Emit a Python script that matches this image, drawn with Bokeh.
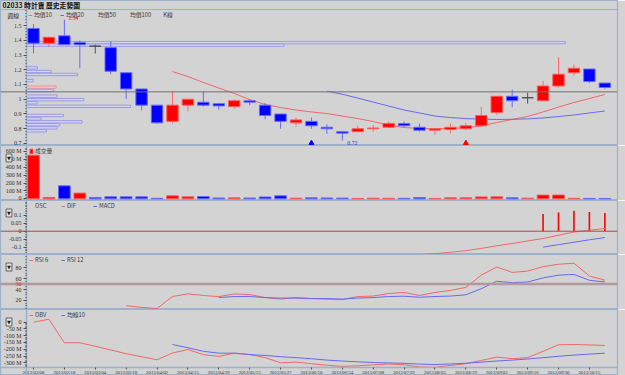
import numpy as np
from bokeh.plotting import figure
from bokeh.layouts import column
from bokeh.models import (Range1d, FixedTicker, Span, Label, Legend, LegendItem,
                          ColumnDataSource, LinearAxis)
from bokeh.embed import file_html
from bokeh.resources import INLINE

# ---------------- data ----------------
TITLE = "02033 時計寶  歷史走勢圖"
PERIOD = "週線"
DATE_LABELS = ["2013/02/08", "2013/02/18", "2013/03/04", "2013/03/18", "2013/04/02",
               "2013/04/15", "2013/04/29", "2013/05/13", "2013/05/27", "2013/06/10",
               "2013/06/24", "2013/07/08", "2013/07/22", "2013/08/05", "2013/08/19",
               "2013/09/02", "2013/09/16", "2013/09/30", "2013/10/15"]

OPEN = [1.48, 1.38, 1.43, 1.385, 1.36, 1.35, 1.18, 1.07, 0.96, 0.85,
        0.96, 0.98, 0.97, 0.95, 0.99, 0.96, 0.90, 0.84, 0.85, 0.81,
        0.78, 0.78, 0.80, 0.81, 0.835, 0.81, 0.79, 0.795, 0.80, 0.82,
        0.91, 1.02, 1.01, 0.99, 1.09, 1.18, 1.205, 1.11]
HIGH = [1.51, 1.425, 1.54, 1.40, 1.37, 1.395, 1.18, 1.07, 0.96, 1.055,
        1.00, 1.053, 0.975, 1.00, 1.00, 0.975, 0.90, 0.875, 0.875, 0.83,
        0.78, 0.82, 0.825, 0.85, 0.85, 0.835, 0.805, 0.835, 0.84, 0.95,
        1.02, 1.065, 1.045, 1.125, 1.285, 1.235, 1.205, 1.11]
LOW = [1.31, 1.355, 1.37, 1.21, 1.31, 1.17, 1.00, 0.925, 0.835, 0.835,
       0.92, 0.95, 0.93, 0.935, 0.96, 0.865, 0.80, 0.815, 0.80, 0.765,
       0.72, 0.78, 0.78, 0.81, 0.81, 0.78, 0.76, 0.77, 0.79, 0.815,
       0.895, 0.945, 0.97, 0.99, 1.08, 1.16, 1.11, 1.07]
CLOSE = [1.38, 1.42, 1.37, 1.37, 1.36, 1.19, 1.07, 0.96, 0.84, 0.96,
         1.00, 0.96, 0.955, 0.99, 0.98, 0.89, 0.85, 0.86, 0.82, 0.80,
         0.77, 0.80, 0.805, 0.835, 0.82, 0.79, 0.80, 0.81, 0.82, 0.89,
         1.02, 0.99, 1.01, 1.09, 1.17, 1.21, 1.12, 1.08]
VOLUME_M = [553, 17, 165, 72, 17, 25, 25, 25, 6, 38,
            25, 29, 10, 12, 10, 23, 38, 8, 12, 11,
            9, 5, 7, 6, 6, 15, 5, 13, 13, 24,
            25, 12, 8, 47, 48, 6, 5, 4]

MA10_START = 9
MA10 = [1.188, 1.154, 1.114, 1.076, 1.039, 0.998, 0.964, 0.944, 0.927, 0.914,
        0.903, 0.886, 0.869, 0.849, 0.825, 0.808, 0.802, 0.800, 0.802, 0.808,
        0.819, 0.842, 0.863, 0.883, 0.914, 0.947, 0.978, 1.005, 1.032]
MA20_START = 19
MA20 = [1.055, 1.034, 1.008, 0.981, 0.954, 0.927, 0.907, 0.886, 0.876, 0.869,
        0.865, 0.863, 0.864, 0.867, 0.873, 0.883, 0.893, 0.907, 0.920]

REF_PRICE = 1.05
PRICE_TICKS = [0.7, 0.8, 0.9, 1.0, 1.1, 1.2, 1.3, 1.4, 1.5]
PRICE_TICK_LABELS = ["0.7", "0.8", "0.9", "1", "1.1", "1.2", "1.3", "1.4", "1.5"]
SIGNAL_IDX = [18, 28]
SIGNAL_KIND = ["low", "buy"]

# volume-by-price profile
VP_PRICE = [1.384, 1.367, 1.213, 1.188, 1.168, 1.127, 1.082, 1.060, 1.021,
            0.997, 0.976, 0.952, 0.890, 0.867, 0.847, 0.827, 0.806, 0.786]
VP_VOL = [320, 153, 6.5, 14.7, 30.3, 4, 17.6, 16, 18.2,
          34, 6.4, 61.8, 22, 8.7, 33, 19.8, 18.2, 11.9]
VP_MAX = 351

VOL_TICKS = [0, 100, 200, 300, 400, 500, 600]
VOL_TICK_LABELS = ["0", "100 M", "200 M", "300 M", "400 M", "500 M", "600 M"]

DIF_START = 25
DIF = [-0.144, -0.139, -0.13, -0.12, -0.106, -0.09, -0.076, -0.06, -0.045,
       -0.025, -0.005, 0.006, 0.017]
MACD_START = 33
MACD = [-0.098, -0.083, -0.068, -0.053, -0.039]
OSC = [0.106, 0.116, 0.126, 0.118, 0.112]
MACD_TICKS = [-0.1, -0.05, 0, 0.05, 0.1]
MACD_TICK_LABELS = ["-0.1", "-0.05", "0", "0.05", "0.1"]

RSI6_START = 6
RSI6 = [10.3, 7.1, 5.2, 27.1, 32.1, 29.0, 27.0, 31.8, 30.8, 25.2,
        22.4, 25.2, 23.4, 22.4, 21.5, 27.1, 28.0, 32.7, 34.6, 29.0,
        34.6, 38.3, 43.9, 66.4, 81.3, 71.4, 73.8, 81.9, 86.4, 88.2,
        65.0, 57.0]
RSI12_START = 12
RSI12 = [25.2, 27.1, 27.1, 25.2, 24.3, 24.3, 23.4, 23.4, 22.4, 24.3,
         25.2, 27.1, 27.7, 25.8, 27.1, 28.0, 30.3, 41.5, 55.1, 52.7,
         53.8, 61.3, 66.4, 67.7, 57.0, 53.8]
RSI_TICKS = [20, 40, 60, 80]
RSI_MID = 50

OBV = [0, 22, -152, -152, -178, -205, -233, -255, -278, -228,
       -202, -240, -253, -229, -239, -262, -300, -295, -307, -318,
       -327, -322, -315, -309, -315, -330, -333, -320, -307, -283,
       -258, -270, -262, -215, -167, -165, -168, -172]
OBV_MA_START = 9
OBV_MA10 = [-165, -189, -215, -229, -229, -239, -246, -255, -262, -270,
            -280, -287, -293, -298, -301, -304, -310, -313, -309, -303,
            -295, -287, -280, -272, -262, -252, -243, -236, -229]
OBV_TICKS = [0, -50, -100, -150, -200, -250, -300]
OBV_TICK_LABELS = ["0", "-50 M", "-100 M", "-150 M", "-200 M", "-250 M", "-300 M"]

# ---------------- layout & styles ----------------
W = 625
LEFT = 26          # strip left of the y axes, holding tick labels (px)
RIGHT = 8          # right border (px)
BG = "#d3d3d3"
SEP = "#9db1ca"
TXT = "#303030"
RED, BLUE, GRAY = "#ff0000", "#0000ff", "#505050"
LRED, LBLUE = "#f06868", "#6868f0"
NUMFONT = "Liberation Serif"
CJK = "Noto Sans CJK TC"

X_LO, X_HI = -0.453, 37.82            # data span between y axis and right edge
FRAME_W = W - RIGHT
PX_PER_X = (FRAME_W - LEFT) / (X_HI - X_LO)
XR = Range1d(X_LO - LEFT / PX_PER_X, X_HI)


def base(height, yr):
    p = figure(width=W, height=height, x_range=XR, y_range=Range1d(*yr),
               output_backend="svg", toolbar_location=None,
               x_axis_location=None, y_axis_location=None,
               min_border_left=0, min_border_right=RIGHT,
               min_border_top=0, min_border_bottom=0,
               background_fill_color=BG, border_fill_color=BG,
               outline_line_color=SEP, outline_line_width=1.2)
    p.grid.visible = False
    return p


def style_axis(ax, ticks, labels, minor, size="6px"):
    ax.ticker = FixedTicker(ticks=ticks, minor_ticks=minor)
    ax.major_label_overrides = {t: s for t, s in zip(ticks, labels)}
    ax.axis_line_color = SEP
    ax.axis_line_width = 1.5
    ax.major_tick_line_color = GRAY
    ax.major_tick_out = 3
    ax.major_tick_in = 0
    ax.minor_tick_line_color = GRAY
    ax.minor_tick_out = 1
    ax.minor_tick_in = 0
    ax.major_label_text_font = NUMFONT
    ax.major_label_text_font_size = size
    ax.major_label_text_color = TXT
    ax.major_label_standoff = 2


def style_y(p, ticks, labels, minor):
    ax = LinearAxis(fixed_location=X_LO)
    style_axis(ax, ticks, labels, minor)
    p.add_layout(ax, "left")


def text(p, x, y, s, size="5.8px", color=TXT, font=CJK, align="left", style="normal",
         x_offset=0, y_offset=0, baseline="middle", **kw):
    p.add_layout(Label(x=x, y=y, x_units="data", y_units="data", text=s,
                       text_font_size=size, text_color=color, text_font=font,
                       text_align=align, text_baseline=baseline,
                       text_font_style=style, x_offset=x_offset, y_offset=y_offset, **kw))


def corner_text(p, s, dx, dy, **kw):
    # text placed relative to the top-left corner of the panel (pixels)
    text(p, XR.start, p.y_range.end, s, x_offset=dx, y_offset=dy, **kw)


def button(p):
    corner_text(p, "▼", 8.5, -12.5, size="5px", color="#202020", font="DejaVu Sans",
                align="center", background_fill_color="#e4e4e4",
                border_line_color="#606060", padding=1)


LEG_H = 12   # approximate legend box height (px)


def legend(p, items, x, center_down):
    leg = Legend(items=items, orientation="horizontal",
                 location=(x, p.height - center_down - LEG_H / 2),
                 background_fill_alpha=0, border_line_alpha=0,
                 label_text_font=CJK, label_text_font_size="5.8px",
                 label_text_color="#404040", label_text_baseline="middle",
                 glyph_width=4, glyph_height=6, label_height=6, label_standoff=2,
                 spacing=6, padding=2, margin=0)
    p.add_layout(leg)


idx = np.arange(len(OPEN))
o, h, l, c = map(np.array, (OPEN, HIGH, LOW, CLOSE))
up, dn = c > o, c < o

# ---------------- main price panel ----------------
H1, HEAD1 = 145, 9               # panel height, title strip height (px)
P_LO, P_HI = 0.6864, 1.6085      # price span of the chart area below the title strip
p1 = base(H1, (P_LO, P_HI + (P_HI - P_LO) * HEAD1 / (H1 - HEAD1)))
style_y(p1, PRICE_TICKS, PRICE_TICK_LABELS,
        [round(0.7 + 0.02 * k, 2) for k in range(0, 46)])
p1.add_layout(Span(location=P_HI, dimension="width", line_color=SEP, line_width=1.2))

vp_per_px = VP_MAX / (FRAME_W - LEFT)
p1.extra_x_ranges = {"vp": Range1d(-LEFT * vp_per_px, VP_MAX)}
last_bin = int(np.argmin(np.abs(np.array(VP_PRICE) - CLOSE[-1])))
vp_fill = ["#f2c6c6" if k == last_bin else "#d6d6f2" for k in range(len(VP_PRICE))]
vp_line = ["#f09696" if k == last_bin else "#9a9ae8" for k in range(len(VP_PRICE))]
p1.hbar(y=VP_PRICE, left=0, right=VP_VOL, height=0.016, x_range_name="vp",
        fill_color=vp_fill, line_color=vp_line, line_width=1)

p1.add_layout(Span(location=REF_PRICE, dimension="width", line_color="#707070",
                   line_width=1))

ma10_r = p1.line(list(range(MA10_START, MA10_START + len(MA10))), MA10,
                 line_color=LRED, line_width=1)
ma20_r = p1.line(list(range(MA20_START, MA20_START + len(MA20))), MA20,
                 line_color=LBLUE, line_width=1)
ma50_r = p1.line([], [], line_color="#c8c060", line_width=1)
ma100_r = p1.line([], [], line_color="#60c0a0", line_width=1)
k_r = p1.scatter([], [], marker="circle", size=4, fill_color=BG, line_color="#404040")

csrc = ColumnDataSource(dict(
    x=idx, hi=h, lo=l,
    top=np.maximum(o, c), bot=np.minimum(o, c),
    fill=np.where(up, RED, np.where(dn, BLUE, GRAY)),
    edge=np.where(up, "#ff5a5a", np.where(dn, "#6a6aff", GRAY)),
    wick=np.where(up, "#ff6a6a", np.where(dn, "#6a6aff", GRAY)),
))
p1.segment(x0="x", y0="lo", x1="x", y1="hi", line_color="wick", line_width=1, source=csrc)
p1.vbar(x="x", top="top", bottom="bot", width=0.74, fill_color="fill",
        line_color="edge", line_width=1, source=csrc)

sig_col = [BLUE if k == "low" else RED for k in SIGNAL_KIND]
p1.scatter(SIGNAL_IDX, [0.703] * len(SIGNAL_IDX), marker="triangle", size=5,
           fill_color=sig_col, line_color=sig_col)

i_hi = int(np.argmax(h))
i_lo = int(np.argmin(l))
text(p1, int(idx[i_hi]), float(h[i_hi]), f"{h[i_hi]:.2f}", size="5.8px", color=RED,
     font=NUMFONT, x_offset=4, y_offset=2)
text(p1, int(idx[i_lo]), float(l[i_lo]), f"{l[i_lo]:.2f}", size="5.8px", color="#3030c0",
     font=NUMFONT, x_offset=5, y_offset=-2)

corner_text(p1, TITLE, 2, -4, size="6.8px", color="#101010", style="bold")
corner_text(p1, PERIOD, 7, -14.5, size="5.8px")
legend(p1, [LegendItem(label="均價10", renderers=[ma10_r]),
            LegendItem(label="均價20", renderers=[ma20_r]),
            LegendItem(label="均價50", renderers=[ma50_r]),
            LegendItem(label="均價100", renderers=[ma100_r]),
            LegendItem(label="K線", renderers=[k_r])], 26, 15)

# ---------------- volume panel ----------------
H2 = 55
p2 = base(H2, (-21.6, 676))
style_y(p2, VOL_TICKS, VOL_TICK_LABELS, [20 * k for k in range(0, 33)])
vol_up = [k == 0 or CLOSE[k] >= CLOSE[k - 1] for k in range(len(CLOSE))]
vsrc = ColumnDataSource(dict(
    x=idx, v=VOLUME_M,
    fill=[RED if u else BLUE for u in vol_up],
    edge=["#ff5a5a" if u else "#6a6aff" for u in vol_up]))
vol_r = p2.vbar(x="x", top="v", bottom=0, width=0.76, fill_color="fill",
                line_color="edge", source=vsrc)
legend(p2, [LegendItem(label="成交量", renderers=[vol_r], index=0)], 27, 6)
button(p2)

# ---------------- MACD panel ----------------
H3 = 54
p3 = base(H3, (-0.1437, 0.1896))
style_y(p3, MACD_TICKS, MACD_TICK_LABELS, [round(-0.13 + 0.01 * k, 2) for k in range(0, 32)])
p3.add_layout(Span(location=0, dimension="width", line_color="#b04848", line_width=1))
mx = list(range(MACD_START, MACD_START + len(OSC)))
osc_r = p3.segment(x0=mx, y0=[0] * len(OSC), x1=mx, y1=OSC, line_color=RED, line_width=1.6)
osc_dummy = p3.line([], [], line_alpha=0)
dif_r = p3.line(list(range(DIF_START, DIF_START + len(DIF))), DIF, line_color=LRED, line_width=1)
macd_r = p3.line(mx, MACD, line_color=LBLUE, line_width=1)
legend(p3, [LegendItem(label="OSC", renderers=[osc_dummy]),
            LegendItem(label="DIF", renderers=[dif_r]),
            LegendItem(label="MACD", renderers=[macd_r])], 27, 6)
button(p3)

# ---------------- RSI panel ----------------
H4 = 55
p4 = base(H4, (3.3, 104.3))
style_y(p4, RSI_TICKS, [str(t) for t in RSI_TICKS], [5 * k for k in range(1, 21)])
p4.add_layout(Span(location=RSI_MID, dimension="width", line_color="#b4999a", line_width=2.6))
r6 = p4.line(list(range(RSI6_START, RSI6_START + len(RSI6))), RSI6, line_color=LRED, line_width=1)
r12 = p4.line(list(range(RSI12_START, RSI12_START + len(RSI12))), RSI12, line_color=LBLUE, line_width=1)
text(p4, X_LO, RSI_MID, str(RSI_MID), size="6px", color="#c03030", font=NUMFONT,
     align="right", x_offset=-5)
legend(p4, [LegendItem(label="RSI 6", renderers=[r6]),
            LegendItem(label="RSI 12", renderers=[r12])], 27, 6)
button(p4)

# ---------------- OBV panel (with the date axis) ----------------
H5 = 66
OBV_AXIS = -332.6                 # OBV value level where the date axis sits
p5 = base(H5, (-394, 93.9))
style_y(p5, OBV_TICKS, OBV_TICK_LABELS, [-10 * k for k in range(0, 34)])
obv_r = p5.line(list(idx), OBV, line_color=LRED, line_width=1)
obvma_r = p5.line(list(range(OBV_MA_START, OBV_MA_START + len(OBV_MA10))), OBV_MA10,
                  line_color=LBLUE, line_width=1)
legend(p5, [LegendItem(label="OBV", renderers=[obv_r]),
            LegendItem(label="均線10", renderers=[obvma_r])], 27, 6)
button(p5)

xt = list(range(0, 2 * len(DATE_LABELS), 2))
xa = LinearAxis(fixed_location=OBV_AXIS)
style_axis(xa, xt, DATE_LABELS, [], size="4.8px")
xa.major_tick_out = 2
xa.major_label_standoff = 1
xa.minor_tick_line_color = None
p5.add_layout(xa, "below")

layout = column(p1, p2, p3, p4, p5, spacing=0)
open("out.html", "w").write(file_html(layout, INLINE))
